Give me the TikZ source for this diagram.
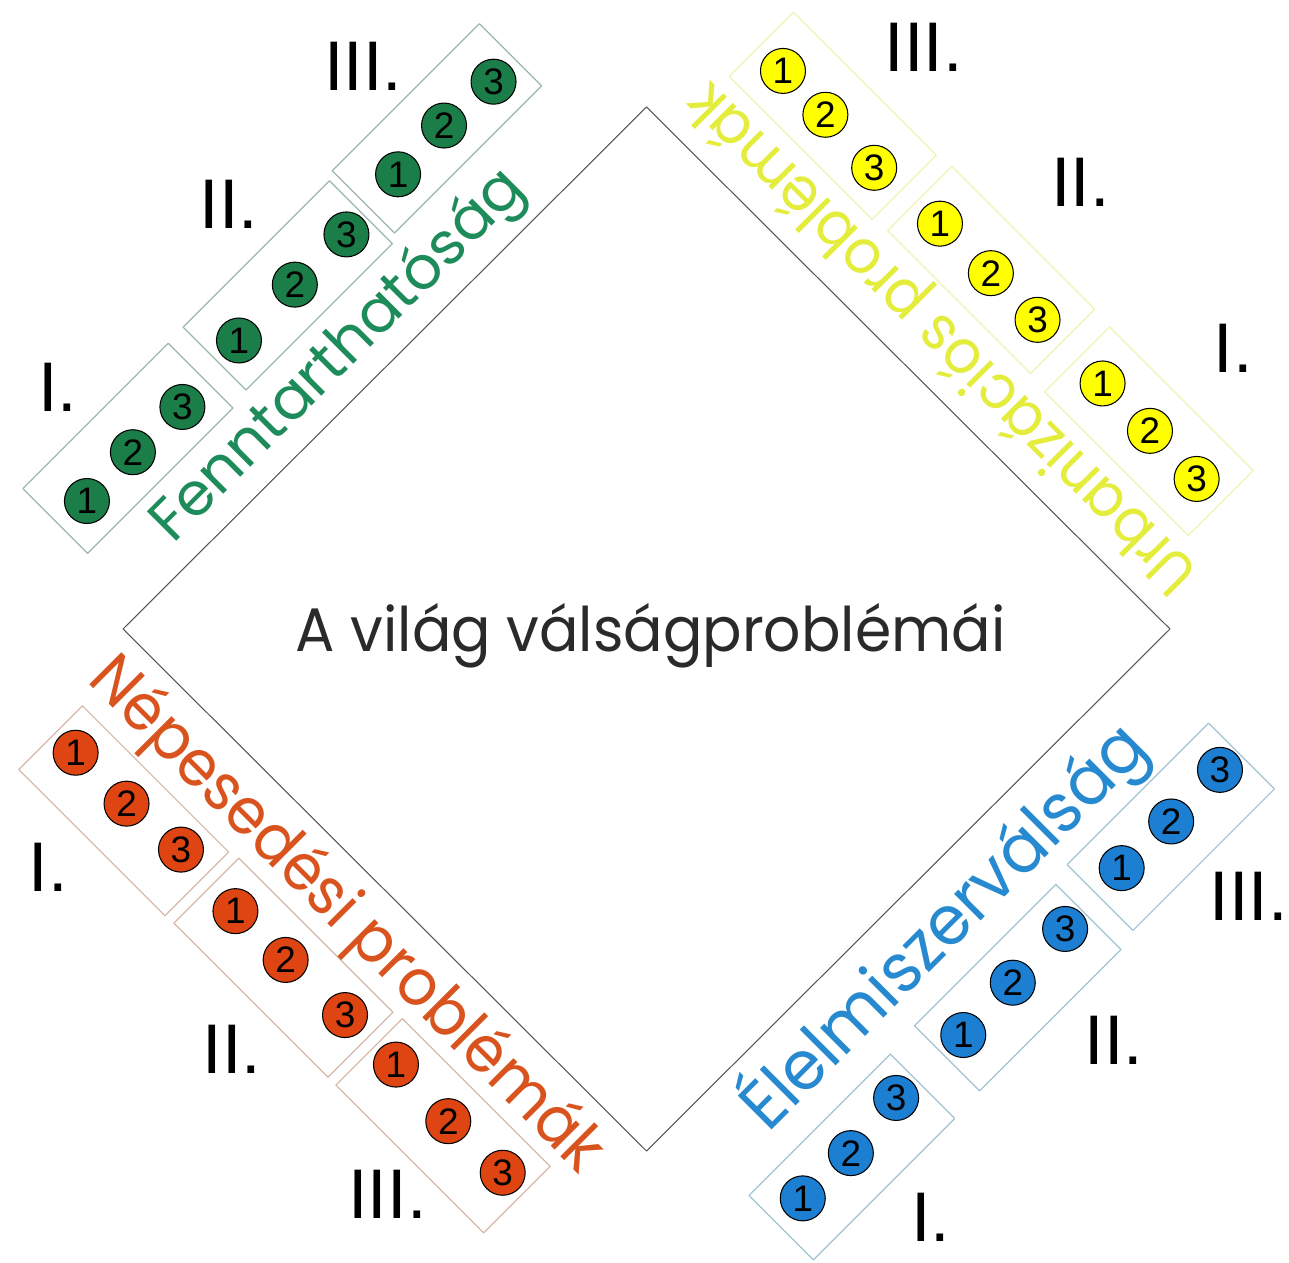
\documentclass[tikz,border=0pt]{standalone}
\usepackage{fontspec}
\setmainfont{Liberation Sans}
\newfontfamily\gothic{Poppins}
\definecolor{zzzzzz}{rgb}{0.3333,0.3333,0.3333}
\definecolor{eaeaea}{rgb}{0.1647,0.1647,0.1647}
\definecolor{wbidti}{rgb}{0.1059,0.4902,0.2784}
\definecolor{weocza}{rgb}{0.1176,0.5490,0.3529}
\definecolor{paboaa}{rgb}{0.6039,0.7216,0.6667}
\definecolor{ffffqq}{rgb}{1.,1.,0.}
\definecolor{etecrc}{rgb}{0.8941,0.9255,0.2353}
\definecolor{eeftbt}{rgb}{0.9333,0.9569,0.7059}
\definecolor{detzwe}{rgb}{0.8706,0.2706,0.0706}
\definecolor{dpzrwe}{rgb}{0.8510,0.3255,0.1176}
\definecolor{duboao}{rgb}{0.8392,0.7216,0.6588}
\definecolor{wcifde}{rgb}{0.1098,0.4980,0.8235}
\definecolor{eiopcf}{rgb}{0.1529,0.5373,0.8118}
\definecolor{arcrdr}{rgb}{0.6392,0.7647,0.8275}
\begin{document}
\begin{tikzpicture}[line cap=round,line join=round,x=0.02cm,y=0.02cm,
  ball/.style={circle,draw=black,line width=0.6pt,minimum size=25.6pt,inner sep=0pt,font=\fontsize{21}{21}\selectfont},
  panel/.style={line width=0.7pt},
  roman/.style={inner sep=0pt,font=\fontsize{40}{40}\selectfont},
  title/.style={inner sep=0pt,anchor=base west,font=\gothic\fontsize{#1}{#1}\selectfont}]
\useasboundingbox (0,0) rectangle (1289,1262);
\coordinate (L) at (123,633);
\coordinate (T) at (646.5,1155);
\coordinate (R) at (1170,633);
\coordinate (B) at (646.5,111);
\draw[color=zzzzzz,line width=0.6pt] (T) -- (R) -- (B) -- (L) -- cycle;
\node[color=eaeaea,inner sep=0pt,anchor=base,xscale=0.95,font=\gothic\fontsize{35}{35}\selectfont] (focim) at (650.5,610) {A világ válságproblémái};
% Fenntarthatosag
\begin{scope}[shift={(L)},rotate=45]
\draw[panel,color=paboaa] (28.5,78.5) rectangle (234,170);
\draw[panel,color=paboaa] (256,82) rectangle (463,171);
\draw[panel,color=paboaa] (472,88) rectangle (680,176);
\foreach \s/\d/\n [count=\i] in {65/116/1,132/118/2,199/115/3,286/122/1,365/122/2,437/121/3,516/127/1,583/129/2,649/125/3}
  \node[ball,fill=wbidti] (g\i) at (\s,\d) {\n};
\node[roman] (gI) at (125,217) {I.};
\node[roman] (gII) at (375,225) {II.};
\node[roman] (gIII) at (568,228) {III.};
\node[title=34,color=weocza,rotate=45] (gcim) at (95,24) {Fenntarthatóság};
\end{scope}
% Urbanizacios problemak
\begin{scope}[shift={(T)},rotate=-45]
\draw[panel,color=eeftbt] (37,80) rectangle (239,171);
\draw[panel,color=eeftbt] (258,83) rectangle (460,174);
\draw[panel,color=eeftbt] (483,80) rectangle (686,172);
\foreach \s/\d/\n [count=\i] in {71/122/1,132/121/2,204/118/3,290/125/1,361/126/2,427/126/3,518/127/1,585/127/2,652/126/3}
  \node[ball,fill=ffffqq] (y\i) at (\s,\d) {\n};
\node[roman] (yIII) at (154,238) {III.};
\node[roman] (yII) at (360,254) {II.};
\node[roman] (yI) at (586,244) {I.};
\node[title=35,color=etecrc,rotate=135,xscale=0.93] (ycim) at (720,64) {Urbanizációs problémák};
\end{scope}
% Nepesedesi problemak
\begin{scope}[shift={(L)},rotate=-45,yscale=-1]
\draw[panel,color=duboao] (25.6,83) rectangle (232.5,173);
\draw[panel,color=duboao] (244,80) rectangle (462,172);
\draw[panel,color=duboao] (473,78) rectangle (682,172);
\foreach \s/\d/\n [count=\i] in {54/121/1,126/121/2,197/115/3,279/120/1,349/119/2,430/116/3,501/115/1,578/118/2,653/116/3}
  \node[ball,fill=detzwe] (o\i) at (\s,\d) {\n};
\node[roman] (oI) at (115.5,221) {I.};
\node[roman] (oII) at (374,220) {II.};
\node[roman] (oIII) at (587,213) {III.};
\node[title=37,color=dpzrwe,rotate=-45,xscale=0.93] (ocim) at (11,63) {Népesedési problémák};
\end{scope}
% Elelmiszervalsag
\begin{scope}[shift={(B)},rotate=45,yscale=-1]
\draw[panel,color=arcrdr] (41,104) rectangle (241,195);
\draw[panel,color=arcrdr] (278,101) rectangle (478,193);
\draw[panel,color=arcrdr] (500,95) rectangle (700,188);
\foreach \s/\d/\n [count=\i] in {77/144/1,143/146/2,214/139/3,306/142/1,378/140/2,453/139/3,536/136/1,604/138/2,675/136/3}
  \node[ball,fill=wcifde] (b\i) at (\s,\d) {\n};
\node[roman] (bI) at (154,248) {I.};
\node[roman] (bII) at (409,252) {II.};
\node[roman] (bIII) at (606,246) {III.};
\node[title=39,color=eiopcf,rotate=45,xscale=0.96] (bcim) at (98,74) {Élelmiszerválság};
\end{scope}
\end{tikzpicture}
\end{document}
